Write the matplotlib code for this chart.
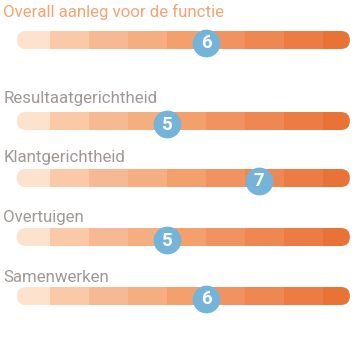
import matplotlib
matplotlib.use("Agg")
import matplotlib.pyplot as plt
from matplotlib.patches import FancyBboxPatch, Rectangle

# rows: label, shown score, marker position on the 1-10 scale
labels = ["Overall aanleg voor de functie", "Resultaatgerichtheid",
          "Klantgerichtheid", "Overtuigen", "Samenwerken"]
scores = [6, 5, 7, 5, 6]
marker_pos = [6.0, 5.0, 7.35, 5.0, 6.0]
seg_edges = [1, 2, 3, 4, 5, 6, 7, 8, 9, 10]
seg_colors = ["#FDE2CD", "#FAC9A8", "#F7B993", "#F5AE80", "#F3A06D",
              "#F09360", "#EE8752", "#EC7B44", "#E97236"]

# layout (pixel rows, top = 0)
W, H = 357, 351
bar_y = [40, 121, 178, 237, 296]
label_y = [17, 103, 162, 222, 282]
bar_lo, bar_hi = 1.15, 9.69
bar_h = 18
xlim = (0.718, 9.872)

fig = plt.figure(figsize=(W / 100, H / 100), dpi=100)
ax = fig.add_axes([0, 0, 1, 1])
ax.set_xlim(*xlim)
ax.set_ylim(H, 0)
ax.axis("off")

# px per x-unit over px per y-unit, for round caps
aspect = (W / (xlim[1] - xlim[0])) / (H / H)
r = (bar_h / 2) / aspect

for i, lab in enumerate(labels):
    yc = bar_y[i]
    clip = FancyBboxPatch((bar_lo, yc - bar_h / 2), bar_hi - bar_lo, bar_h,
                          boxstyle=f"round,pad=0,rounding_size={r}",
                          mutation_aspect=aspect, fc="none", ec="none")
    ax.add_patch(clip)
    for k, c in enumerate(seg_colors):
        rect = Rectangle((seg_edges[k], yc - bar_h / 2), seg_edges[k + 1] - seg_edges[k],
                         bar_h, fc=c, ec="none", zorder=1)
        ax.add_patch(rect)
        rect.set_clip_path(clip)

    col = "#F4A373" if i == 0 else "#9E9996"
    ax.text(0.80, label_y[i], lab, ha="left", va="baseline",
            fontsize=12.2, color=col, family=["Roboto", "DejaVu Sans"])

    ax.scatter([marker_pos[i]], [yc + 3], s=400, color="#74B3DA", lw=0, zorder=3)
    ax.text(marker_pos[i], yc + 3.5, str(scores[i]), ha="center", va="center",
            fontsize=13.5, fontweight="bold", color="white", zorder=4,
            family=["Roboto", "DejaVu Sans"])

fig.savefig("out.png", dpi=100)
